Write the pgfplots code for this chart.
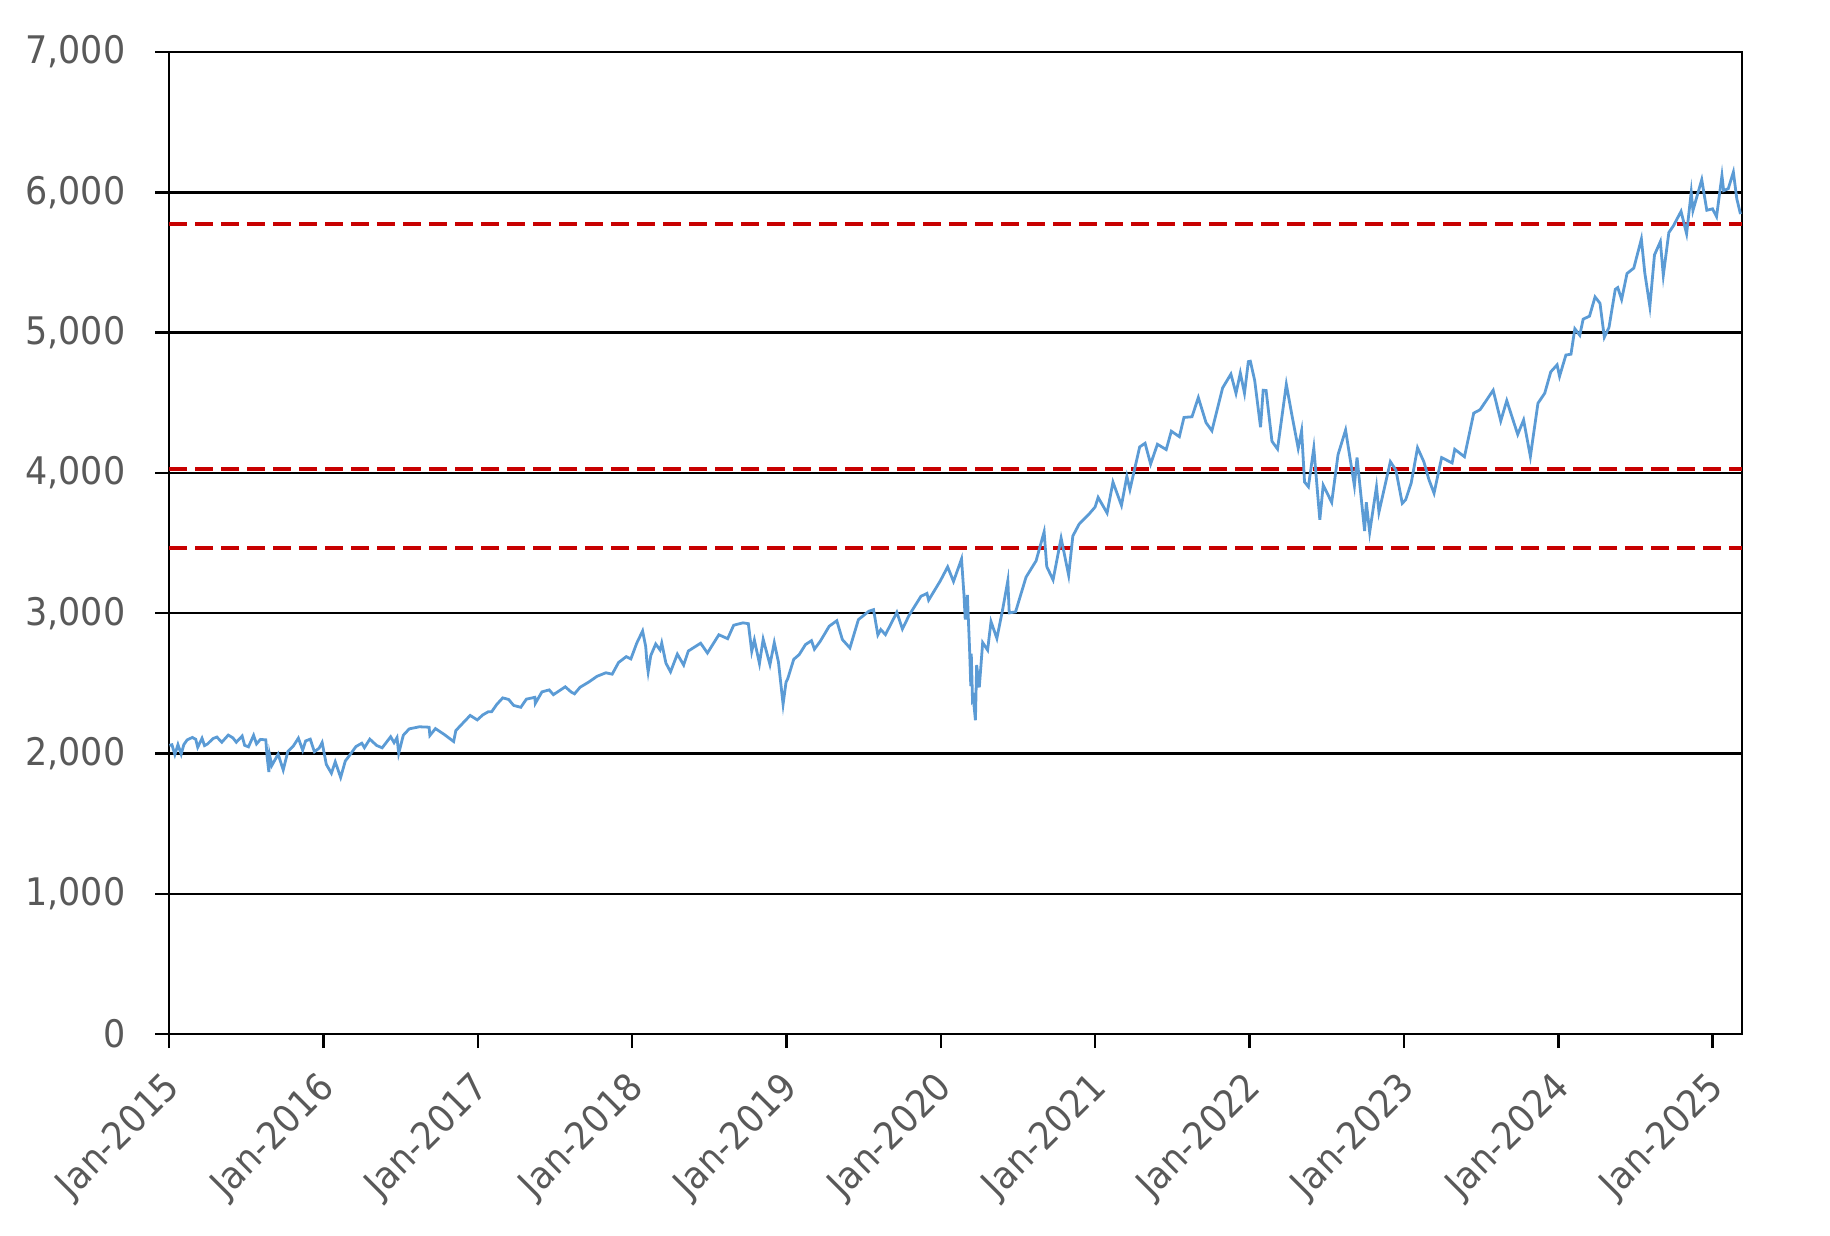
\documentclass[border=0pt]{standalone}
\usepackage{fontspec}
\setmainfont{DejaVu Sans}[FakeStretch=0.92]
\usepackage{pgfplots}
\pgfplotsset{compat=1.18}
\definecolor{lineblue}{RGB}{91,155,213}
\definecolor{dashred}{RGB}{200,0,0}
\definecolor{txtgray}{RGB}{89,89,89}
\pgfplotstableread{
x y
2015.003 2058
2015.019 2062
2015.038 1992
2015.058 2063
2015.079 1995
2015.096 2063
2015.118 2097
2015.151 2114
2015.173 2101
2015.186 2044
2015.214 2108
2015.230 2056
2015.249 2067
2015.285 2106
2015.310 2117
2015.342 2080
2015.384 2131
2015.414 2111
2015.436 2080
2015.474 2124
2015.490 2058
2015.515 2047
2015.548 2129
2015.567 2068
2015.592 2100
2015.627 2097
2015.636 1971
2015.647 1868
2015.652 1988
2015.666 1914
2015.707 1995
2015.740 1882
2015.770 2014
2015.805 2052
2015.838 2109
2015.866 2023
2015.885 2089
2015.915 2102
2015.942 2012
2015.973 2038
2015.992 2078
2016.019 1922
2016.052 1859
2016.077 1940
2016.112 1829
2016.142 1946
2016.164 1978
2016.211 2049
2016.249 2073
2016.266 2041
2016.301 2102
2016.345 2057
2016.381 2040
2016.436 2119
2016.458 2077
2016.477 2113
2016.488 2001
2016.518 2130
2016.556 2175
2016.622 2190
2016.685 2187
2016.690 2128
2016.726 2177
2016.786 2133
2016.844 2085
2016.858 2163
2016.901 2213
2016.951 2271
2016.997 2239
2017.033 2275
2017.068 2297
2017.090 2297
2017.123 2349
2017.162 2396
2017.200 2385
2017.233 2342
2017.279 2329
2017.315 2387
2017.370 2400
2017.373 2357
2017.416 2439
2017.463 2453
2017.490 2419
2017.567 2475
2017.605 2438
2017.627 2425
2017.663 2472
2017.718 2508
2017.773 2550
2017.830 2575
2017.871 2565
2017.912 2648
2017.962 2690
2017.992 2674
2018.030 2786
2018.068 2873
2018.088 2762
2018.096 2649
2018.104 2581
2018.121 2698
2018.153 2780
2018.181 2738
2018.192 2787
2018.219 2644
2018.249 2582
2018.293 2708
2018.334 2630
2018.364 2730
2018.444 2786
2018.488 2716
2018.562 2846
2018.619 2818
2018.658 2914
2018.718 2931
2018.753 2925
2018.775 2728
2018.792 2809
2018.825 2641
2018.849 2814
2018.893 2633
2018.921 2790
2018.948 2651
2018.978 2351
2018.997 2507
2019.008 2532
2019.047 2671
2019.082 2704
2019.123 2776
2019.162 2804
2019.181 2743
2019.219 2800
2019.277 2907
2019.326 2946
2019.362 2812
2019.411 2752
2019.466 2954
2019.534 3014
2019.564 3025
2019.592 2845
2019.611 2883
2019.641 2847
2019.715 3006
2019.751 2887
2019.795 2986
2019.871 3120
2019.910 3141
2019.921 3093
2019.997 3231
2020.044 3330
2020.082 3226
2020.134 3386
2020.150 3128
2020.158 2954
2020.172 3130
2020.186 2747
2020.194 2481
2020.197 2711
2020.205 2386
2020.210 2398
2020.224 2237
2020.232 2630
2020.249 2471
2020.271 2790
2020.303 2737
2020.325 2940
2020.363 2820
2020.402 3036
2020.434 3232
2020.443 3002
2020.484 3009
2020.552 3257
2020.617 3373
2020.669 3580
2020.686 3332
2020.727 3237
2020.779 3535
2020.828 3270
2020.855 3550
2020.896 3635
2020.962 3709
2020.999 3756
2021.019 3825
2021.077 3714
2021.115 3934
2021.170 3768
2021.205 3975
2021.225 3881
2021.288 4185
2021.323 4211
2021.359 4063
2021.403 4204
2021.460 4166
2021.493 4297
2021.545 4258
2021.575 4395
2021.627 4400
2021.668 4537
2021.718 4358
2021.756 4300
2021.825 4605
2021.879 4704
2021.912 4567
2021.940 4712
2021.967 4568
2021.992 4793
2022.005 4796
2022.033 4659
2022.071 4326
2022.088 4589
2022.107 4587
2022.145 4225
2022.181 4170
2022.238 4631
2022.274 4413
2022.315 4175
2022.337 4300
2022.356 3935
2022.381 3901
2022.416 4177
2022.455 3666
2022.477 3912
2022.532 3790
2022.573 4130
2022.622 4305
2022.679 3908
2022.696 4110
2022.745 3586
2022.756 3791
2022.778 3577
2022.822 3901
2022.838 3720
2022.912 4080
2022.948 4019
2022.989 3783
2023.011 3808
2023.047 3928
2023.088 4179
2023.129 4079
2023.162 3951
2023.195 3855
2023.244 4109
2023.312 4071
2023.329 4168
2023.392 4115
2023.452 4426
2023.493 4450
2023.578 4589
2023.627 4370
2023.666 4515
2023.737 4274
2023.775 4377
2023.819 4117
2023.868 4496
2023.912 4568
2023.951 4720
2023.992 4770
2024.008 4688
2024.049 4840
2024.082 4846
2024.107 5027
2024.139 4981
2024.161 5096
2024.202 5117
2024.238 5254
2024.270 5209
2024.298 4967
2024.328 5036
2024.369 5308
2024.385 5321
2024.410 5236
2024.445 5421
2024.489 5460
2024.538 5667
2024.560 5427
2024.593 5186
2024.623 5554
2024.661 5648
2024.680 5408
2024.716 5713
2024.746 5762
2024.795 5864
2024.831 5705
2024.861 6001
2024.872 5870
2024.929 6090
2024.962 5872
2024.999 5882
2025.025 5827
2025.060 6119
2025.071 6012
2025.101 6026
2025.134 6144
2025.156 5955
2025.180 5845
}\spx
\begin{document}
\begin{tikzpicture}
\path[use as bounding box] (-42.25pt,-50.25pt) rectangle (415.25pt,258.5pt);
\begin{axis}[
  at={(0pt,0pt)}, anchor=south west,
  scale only axis, width=393.25pt, height=245.5pt,
  xmin=2015, xmax=2025.19, ymin=0, ymax=7000,
  xtick={2015,2016,2017,2018,2019,2020,2021,2022,2023,2024,2025},
  xticklabels={Jan-2015,Jan-2016,Jan-2017,Jan-2018,Jan-2019,Jan-2020,Jan-2021,Jan-2022,Jan-2023,Jan-2024,Jan-2025},
  ytick={0,1000,2000,3000,4000,5000,6000,7000},
  yticklabels={0,{1,000},{2,000},{3,000},{4,000},{5,000},{6,000},{7,000}},
  ymajorgrids, major grid style={black, line width=0.6pt},
  axis line style={black, line width=0.6pt},
  tick align=outside, major tick length=3.5pt,
  xtick pos=bottom, ytick pos=left,
  tick style={black, line width=0.6pt},
  ticklabel style={font=\fontsize{9.5}{11}\selectfont, text=txtgray},
  xticklabel style={xshift=1.5pt, yshift=-8.4pt, rotate=45, anchor=east, inner sep=0pt},
  yticklabel style={xshift=-7.2pt, anchor=east, inner sep=0pt},
]
\addplot[dashred, line width=1pt, dash pattern=on 4.5pt off 2pt] coordinates {(2015,5772) (2025.19,5772)};
\addplot[dashred, line width=1pt, dash pattern=on 4.5pt off 2pt] coordinates {(2015,4030) (2025.19,4030)};
\addplot[dashred, line width=1pt, dash pattern=on 4.5pt off 2pt] coordinates {(2015,3466) (2025.19,3466)};
\addplot[lineblue, line width=0.7pt] table[x=x, y=y] {\spx};
\end{axis}
\end{tikzpicture}
\end{document}
